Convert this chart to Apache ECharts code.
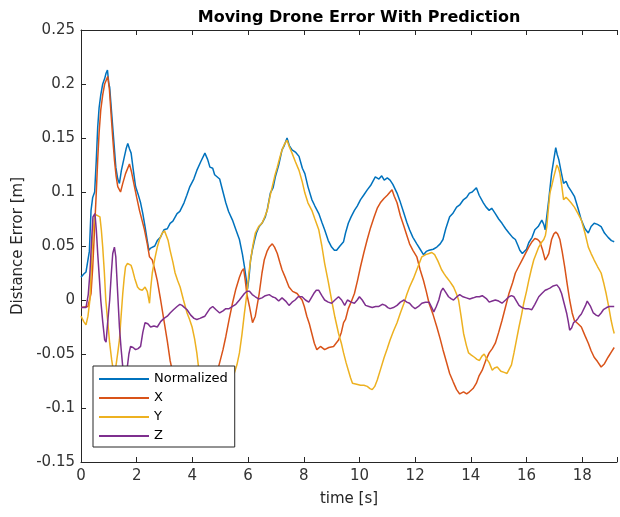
<!DOCTYPE html>
<html><head><meta charset="utf-8">
<script src="https://cdn.jsdelivr.net/npm/echarts@6/dist/echarts.min.js"></script>
<style>html,body{margin:0;padding:0;background:#fff}#c{width:620px;height:517px}</style>
</head><body><div id="c"></div>
<script>
const seriesNames = ['Normalized', 'X', 'Y', 'Z'];
const xTicks = [0, 2, 4, 6, 8, 10, 12, 14, 16, 18];
const yTicks = [-0.15, -0.1, -0.05, 0, 0.05, 0.1, 0.15, 0.2, 0.25];

const normalized = [[0,0.021],[0.1,0.024],[0.18,0.026],[0.25,0.025],[0.3,0.045],[0.36,0.083],[0.42,0.095],[0.49,0.1],[0.55,0.13],[0.6,0.16],[0.65,0.178],[0.71,0.19],[0.78,0.2],[0.85,0.205],[0.9,0.21],[0.95,0.213],[1.0,0.2],[1.03,0.197],[1.08,0.18],[1.14,0.16],[1.2,0.14],[1.25,0.123],[1.32,0.112],[1.38,0.108],[1.45,0.12],[1.56,0.133],[1.62,0.14],[1.68,0.145],[1.74,0.14],[1.8,0.136],[1.88,0.12],[1.96,0.105],[2.05,0.098],[2.14,0.09],[2.22,0.08],[2.3,0.068],[2.38,0.055],[2.44,0.046],[2.5,0.048],[2.56,0.049],[2.65,0.05],[2.74,0.055],[2.85,0.058],[2.98,0.065],[3.1,0.066],[3.2,0.071],[3.3,0.073],[3.45,0.08],[3.55,0.082],[3.7,0.09],[3.8,0.097],[3.91,0.105],[4.05,0.112],[4.16,0.12],[4.3,0.128],[4.45,0.136],[4.55,0.13],[4.63,0.123],[4.73,0.122],[4.8,0.116],[4.98,0.112],[5.1,0.1],[5.2,0.09],[5.3,0.082],[5.44,0.074],[5.55,0.066],[5.69,0.056],[5.8,0.042],[5.87,0.031],[5.93,0.02],[5.98,0.01],[6.03,0.02],[6.09,0.037],[6.16,0.047],[6.23,0.055],[6.3,0.062],[6.4,0.068],[6.5,0.071],[6.62,0.077],[6.7,0.085],[6.8,0.099],[6.9,0.104],[6.98,0.114],[7.1,0.125],[7.22,0.139],[7.3,0.143],[7.4,0.15],[7.48,0.143],[7.58,0.139],[7.7,0.137],[7.83,0.133],[7.95,0.122],[8.04,0.117],[8.15,0.105],[8.29,0.093],[8.4,0.087],[8.54,0.08],[8.65,0.072],[8.75,0.065],[8.88,0.055],[9.0,0.049],[9.1,0.046],[9.18,0.046],[9.3,0.05],[9.43,0.054],[9.5,0.062],[9.6,0.071],[9.7,0.077],[9.82,0.083],[9.92,0.087],[10.04,0.093],[10.15,0.097],[10.28,0.102],[10.4,0.106],[10.57,0.114],[10.7,0.112],[10.8,0.115],[10.89,0.111],[11.0,0.113],[11.1,0.111],[11.2,0.107],[11.35,0.099],[11.45,0.092],[11.6,0.08],[11.7,0.072],[11.8,0.065],[11.92,0.058],[12.06,0.052],[12.18,0.047],[12.3,0.042],[12.4,0.045],[12.5,0.046],[12.65,0.047],[12.78,0.049],[12.9,0.052],[13.0,0.056],[13.1,0.066],[13.24,0.077],[13.35,0.08],[13.49,0.086],[13.6,0.088],[13.74,0.093],[13.85,0.095],[13.95,0.099],[14.05,0.1],[14.2,0.104],[14.3,0.097],[14.45,0.09],[14.55,0.086],[14.66,0.083],[14.75,0.085],[14.88,0.08],[15.0,0.075],[15.12,0.071],[15.25,0.066],[15.37,0.062],[15.5,0.058],[15.6,0.056],[15.7,0.05],[15.76,0.046],[15.85,0.043],[15.9,0.042],[16.0,0.047],[16.08,0.053],[16.2,0.058],[16.3,0.065],[16.42,0.068],[16.55,0.074],[16.62,0.07],[16.67,0.065],[16.74,0.08],[16.8,0.093],[16.9,0.117],[16.98,0.13],[17.05,0.141],[17.1,0.135],[17.16,0.13],[17.25,0.118],[17.33,0.108],[17.42,0.11],[17.5,0.105],[17.6,0.101],[17.72,0.096],[17.85,0.085],[17.97,0.074],[18.1,0.066],[18.22,0.062],[18.32,0.068],[18.43,0.071],[18.55,0.07],[18.68,0.068],[18.8,0.062],[18.93,0.058],[19.05,0.055],[19.15,0.054]];

const errX = [[0,-0.007],[0.25,-0.006],[0.36,0.006],[0.42,0.03],[0.48,0.062],[0.55,0.1],[0.6,0.13],[0.65,0.155],[0.71,0.176],[0.78,0.19],[0.85,0.2],[0.96,0.207],[1.02,0.195],[1.07,0.176],[1.14,0.15],[1.2,0.13],[1.26,0.115],[1.32,0.105],[1.42,0.1],[1.5,0.108],[1.6,0.117],[1.74,0.126],[1.82,0.118],[1.92,0.105],[2.0,0.095],[2.1,0.083],[2.2,0.073],[2.28,0.065],[2.38,0.052],[2.46,0.04],[2.56,0.037],[2.65,0.028],[2.74,0.018],[2.86,0.0],[2.98,-0.019],[3.1,-0.038],[3.2,-0.056],[3.35,-0.074],[3.6,-0.088],[4.0,-0.096],[4.4,-0.095],[4.75,-0.08],[4.98,-0.058],[5.1,-0.046],[5.2,-0.034],[5.32,-0.018],[5.44,-0.003],[5.56,0.01],[5.69,0.021],[5.78,0.027],[5.84,0.029],[5.9,0.018],[5.96,0.005],[6.05,-0.006],[6.16,-0.021],[6.26,-0.015],[6.4,0.006],[6.5,0.025],[6.58,0.037],[6.68,0.045],[6.76,0.049],[6.87,0.052],[6.95,0.049],[7.05,0.043],[7.14,0.035],[7.22,0.028],[7.35,0.02],[7.47,0.012],[7.6,0.008],[7.76,0.006],[7.94,0.0],[8.02,-0.006],[8.11,-0.015],[8.2,-0.022],[8.29,-0.031],[8.38,-0.04],[8.47,-0.046],[8.6,-0.043],[8.75,-0.046],[8.9,-0.044],[9.07,-0.043],[9.25,-0.037],[9.35,-0.03],[9.43,-0.021],[9.5,-0.018],[9.6,-0.008],[9.7,-0.002],[9.82,0.006],[9.93,0.018],[10.04,0.031],[10.16,0.044],[10.28,0.056],[10.4,0.067],[10.53,0.077],[10.64,0.085],[10.75,0.09],[10.88,0.094],[11.0,0.097],[11.1,0.1],[11.17,0.102],[11.25,0.096],[11.35,0.09],[11.47,0.078],[11.6,0.068],[11.7,0.06],[11.8,0.052],[11.92,0.046],[12.06,0.04],[12.18,0.028],[12.3,0.018],[12.4,0.008],[12.5,-0.003],[12.65,-0.014],[12.78,-0.025],[12.9,-0.036],[13.0,-0.046],[13.12,-0.057],[13.24,-0.068],[13.37,-0.076],[13.49,-0.083],[13.6,-0.087],[13.74,-0.085],[13.85,-0.087],[13.95,-0.085],[14.08,-0.082],[14.2,-0.077],[14.3,-0.07],[14.41,-0.065],[14.55,-0.055],[14.66,-0.049],[14.77,-0.045],[14.88,-0.04],[15.0,-0.03],[15.12,-0.019],[15.25,-0.006],[15.37,0.006],[15.5,0.016],[15.6,0.025],[15.72,0.031],[15.84,0.037],[15.96,0.043],[16.08,0.049],[16.2,0.054],[16.3,0.057],[16.4,0.056],[16.48,0.054],[16.58,0.046],[16.67,0.037],[16.74,0.04],[16.8,0.043],[16.9,0.056],[16.98,0.061],[17.05,0.063],[17.12,0.061],[17.2,0.056],[17.28,0.045],[17.37,0.031],[17.46,0.015],[17.55,0.0],[17.64,-0.012],[17.72,-0.019],[17.85,-0.022],[17.97,-0.025],[18.1,-0.033],[18.22,-0.04],[18.32,-0.047],[18.43,-0.053],[18.55,-0.057],[18.68,-0.062],[18.8,-0.059],[18.93,-0.053],[19.05,-0.048],[19.15,-0.044]];

const errY = [[0,-0.015],[0.1,-0.02],[0.18,-0.023],[0.25,-0.015],[0.32,0.0],[0.38,0.035],[0.43,0.062],[0.48,0.075],[0.53,0.079],[0.6,0.08],[0.68,0.077],[0.73,0.065],[0.78,0.049],[0.84,0.025],[0.89,0.0],[0.96,-0.02],[1.03,-0.04],[1.1,-0.055],[1.14,-0.062],[1.2,-0.068],[1.26,-0.06],[1.32,-0.049],[1.38,-0.037],[1.44,-0.015],[1.5,0.006],[1.55,0.02],[1.6,0.031],[1.67,0.034],[1.74,0.035],[1.8,0.032],[1.85,0.028],[1.93,0.02],[2.03,0.012],[2.1,0.01],[2.2,0.009],[2.3,0.012],[2.38,0.008],[2.46,-0.003],[2.5,0.01],[2.56,0.025],[2.65,0.038],[2.74,0.049],[2.82,0.056],[2.92,0.062],[3.0,0.064],[3.06,0.063],[3.13,0.055],[3.2,0.046],[3.3,0.035],[3.38,0.025],[3.47,0.018],[3.56,0.012],[3.68,0.0],[3.81,-0.012],[3.9,-0.018],[3.99,-0.025],[4.08,-0.036],[4.16,-0.049],[4.22,-0.062],[4.27,-0.074],[4.4,-0.082],[4.7,-0.085],[5.0,-0.08],[5.3,-0.072],[5.5,-0.068],[5.6,-0.06],[5.69,-0.049],[5.78,-0.032],[5.87,-0.012],[5.93,0.0],[5.98,0.012],[6.03,0.025],[6.09,0.037],[6.17,0.05],[6.26,0.062],[6.38,0.068],[6.5,0.071],[6.6,0.077],[6.69,0.083],[6.78,0.095],[6.87,0.105],[6.96,0.115],[7.05,0.123],[7.14,0.132],[7.22,0.139],[7.3,0.144],[7.4,0.148],[7.48,0.142],[7.58,0.136],[7.7,0.128],[7.83,0.12],[7.94,0.11],[8.04,0.099],[8.15,0.09],[8.29,0.083],[8.4,0.075],[8.54,0.065],[8.65,0.05],[8.75,0.034],[8.88,0.017],[9.0,0.0],[9.12,-0.016],[9.25,-0.031],[9.35,-0.04],[9.43,-0.049],[9.52,-0.058],[9.6,-0.065],[9.68,-0.072],[9.75,-0.077],[9.9,-0.078],[10.04,-0.079],[10.16,-0.079],[10.28,-0.08],[10.38,-0.082],[10.46,-0.083],[10.55,-0.08],[10.64,-0.074],[10.76,-0.064],[10.89,-0.053],[11.0,-0.045],[11.1,-0.037],[11.22,-0.029],[11.35,-0.021],[11.47,-0.012],[11.6,-0.003],[11.7,0.005],[11.8,0.012],[11.94,0.02],[12.06,0.028],[12.15,0.034],[12.24,0.04],[12.38,0.042],[12.5,0.043],[12.6,0.044],[12.7,0.042],[12.82,0.036],[12.95,0.028],[13.05,0.024],[13.13,0.021],[13.25,0.017],[13.38,0.012],[13.48,0.006],[13.56,0.0],[13.65,-0.015],[13.74,-0.031],[13.84,-0.042],[13.92,-0.049],[14.02,-0.051],[14.13,-0.053],[14.22,-0.055],[14.31,-0.056],[14.4,-0.052],[14.48,-0.05],[14.58,-0.055],[14.66,-0.058],[14.77,-0.065],[14.85,-0.063],[14.95,-0.062],[15.08,-0.066],[15.2,-0.067],[15.3,-0.068],[15.37,-0.068],[15.46,-0.06],[15.55,-0.049],[15.64,-0.037],[15.73,-0.025],[15.82,-0.014],[15.9,-0.003],[16.0,0.008],[16.08,0.018],[16.17,0.028],[16.26,0.037],[16.35,0.043],[16.44,0.049],[16.53,0.053],[16.62,0.056],[16.68,0.06],[16.73,0.068],[16.78,0.083],[16.84,0.099],[16.9,0.105],[16.98,0.114],[17.04,0.12],[17.09,0.125],[17.15,0.122],[17.2,0.117],[17.27,0.105],[17.33,0.093],[17.42,0.095],[17.5,0.093],[17.6,0.09],[17.72,0.086],[17.85,0.08],[17.97,0.074],[18.1,0.062],[18.22,0.049],[18.32,0.043],[18.43,0.037],[18.55,0.031],[18.68,0.025],[18.78,0.015],[18.86,0.006],[18.95,-0.006],[19.04,-0.019],[19.1,-0.026],[19.15,-0.031]];

const errZ = [[0,-0.007],[0.18,-0.007],[0.26,0.005],[0.32,0.025],[0.38,0.055],[0.43,0.077],[0.5,0.08],[0.55,0.065],[0.6,0.043],[0.66,0.02],[0.71,0.0],[0.78,-0.02],[0.85,-0.037],[0.9,-0.039],[0.96,-0.02],[1.03,0.0],[1.09,0.025],[1.14,0.043],[1.2,0.049],[1.25,0.04],[1.28,0.025],[1.33,0.0],[1.38,-0.025],[1.44,-0.045],[1.5,-0.062],[1.58,-0.07],[1.65,-0.065],[1.72,-0.05],[1.78,-0.043],[1.87,-0.044],[1.96,-0.046],[2.05,-0.045],[2.14,-0.043],[2.22,-0.03],[2.3,-0.021],[2.4,-0.022],[2.5,-0.025],[2.62,-0.024],[2.74,-0.025],[2.86,-0.02],[2.98,-0.017],[3.1,-0.015],[3.2,-0.012],[3.32,-0.009],[3.45,-0.006],[3.55,-0.004],[3.63,-0.005],[3.72,-0.007],[3.81,-0.009],[3.94,-0.014],[4.06,-0.017],[4.16,-0.018],[4.27,-0.017],[4.36,-0.016],[4.45,-0.015],[4.55,-0.011],[4.63,-0.008],[4.73,-0.006],[4.85,-0.009],[4.98,-0.012],[5.1,-0.01],[5.2,-0.008],[5.32,-0.008],[5.44,-0.006],[5.56,-0.004],[5.69,0.0],[5.78,0.003],[5.87,0.006],[5.96,0.008],[6.05,0.008],[6.15,0.005],[6.26,0.003],[6.38,0.001],[6.5,0.002],[6.62,0.004],[6.76,0.005],[6.87,0.003],[6.98,0.002],[7.1,-0.001],[7.22,0.002],[7.35,-0.001],[7.47,-0.005],[7.58,-0.002],[7.69,0.0],[7.8,0.003],[7.94,0.003],[8.06,0.0],[8.18,-0.002],[8.27,0.002],[8.36,0.006],[8.45,0.009],[8.54,0.009],[8.65,0.004],[8.75,0.0],[8.88,-0.002],[9.0,-0.003],[9.12,0.0],[9.25,0.003],[9.36,0.0],[9.47,-0.005],[9.57,0.0],[9.7,-0.002],[9.82,-0.003],[9.92,0.0],[10.0,0.003],[10.1,0.0],[10.22,-0.005],[10.34,-0.006],[10.46,-0.007],[10.58,-0.006],[10.7,-0.006],[10.82,-0.004],[10.93,-0.005],[11.02,-0.007],[11.1,-0.008],[11.22,-0.007],[11.35,-0.005],[11.47,-0.002],[11.6,0.0],[11.7,-0.002],[11.8,-0.003],[11.9,-0.006],[12.0,-0.008],[12.12,-0.006],[12.24,-0.003],[12.37,-0.002],[12.5,-0.002],[12.58,-0.006],[12.67,-0.011],[12.76,-0.006],[12.85,0.0],[12.93,0.008],[13.0,0.011],[13.1,0.007],[13.2,0.003],[13.3,0.001],[13.38,0.0],[13.5,0.003],[13.6,0.005],[13.72,0.003],[13.84,0.002],[13.96,0.001],[14.09,0.002],[14.2,0.003],[14.31,0.003],[14.41,0.004],[14.48,0.005],[14.57,0.001],[14.66,-0.002],[14.77,-0.001],[14.88,0.0],[15.0,-0.001],[15.12,-0.003],[15.25,0.0],[15.37,0.003],[15.46,0.004],[15.55,0.003],[15.64,-0.001],[15.73,-0.005],[15.84,-0.007],[15.94,-0.008],[16.06,-0.008],[16.19,-0.009],[16.3,-0.004],[16.44,0.003],[16.55,0.006],[16.67,0.009],[16.76,0.01],[16.84,0.011],[16.96,0.013],[17.09,0.014],[17.18,0.011],[17.26,0.006],[17.35,-0.003],[17.44,-0.012],[17.5,-0.02],[17.55,-0.028],[17.62,-0.026],[17.69,-0.021],[17.75,-0.02],[17.79,-0.019],[17.85,-0.017],[17.9,-0.015],[17.97,-0.013],[18.04,-0.012],[18.12,-0.005],[18.18,-0.001],[18.22,0.0],[18.3,-0.006],[18.4,-0.012],[18.5,-0.014],[18.58,-0.015],[18.68,-0.012],[18.76,-0.009],[18.88,-0.007],[18.97,-0.006],[19.15,-0.006]];

const colors = ['#0072BD', '#D95319', '#EDB120', '#7E2F8E'];
const font = 'DejaVu Sans';
const axisColor = '#262626';

const chart = echarts.init(document.getElementById('c'), null, {renderer: 'canvas'});
const dataSets = [normalized, errX, errY, errZ];
const xMin = xTicks[0], xMax = 19.25;
const yMin = yTicks[0], yMax = yTicks[yTicks.length - 1];

chart.setOption({
  animation: false,
  backgroundColor: '#fff',
  color: colors,
  title: {
    text: 'Moving Drone Error With Prediction',
    left: 354, top: 5, textAlign: 'center',
    textStyle: {fontFamily: font, fontSize: 16, fontWeight: 'bold', color: '#000'}
  },
  grid: {left: 81, right: -2, top: 30, bottom: 55, containLabel: false},
  legend: {
    orient: 'vertical', left: 93, top: 366,
    data: seriesNames,
    icon: 'rect', itemWidth: 50, itemHeight: 2, itemGap: 5,
    padding: [6, 7, 4, 6],
    backgroundColor: '#fff', borderColor: axisColor, borderWidth: 1,
    textStyle: {fontFamily: font, fontSize: 13, color: '#000', lineHeight: 14},
    z: 10
  },
  xAxis: [{
    type: 'value', min: xMin, max: xMax, interval: 2, position: 'bottom',
    name: 'time [s]', nameLocation: 'middle', nameGap: 30,
    nameTextStyle: {fontFamily: font, fontSize: 15, color: axisColor},
    axisLine: {show: true, onZero: false, lineStyle: {color: axisColor, width: 1}},
    axisTick: {show: true, inside: true, length: 5, lineStyle: {color: axisColor}},
    axisLabel: {fontFamily: font, fontSize: 15, color: '#333', margin: 7,
      formatter: v => (xTicks.indexOf(v) >= 0 ? String(v) : '')},
    splitLine: {show: false}
  }, {
    type: 'value', min: xMin, max: xMax, interval: 2, position: 'top',
    axisLine: {show: true, onZero: false, lineStyle: {color: axisColor, width: 1}},
    axisTick: {show: true, inside: true, length: 5, lineStyle: {color: axisColor}},
    axisLabel: {show: false},
    splitLine: {show: false}
  }],
  yAxis: {
    type: 'value', min: yMin, max: yMax, interval: 0.05,
    name: 'Distance Error [m]', nameLocation: 'middle', nameGap: 52,
    nameTextStyle: {fontFamily: font, fontSize: 15, color: axisColor},
    axisLine: {show: true, onZero: false, lineStyle: {color: axisColor, width: 1}},
    axisTick: {show: true, inside: true, length: 5, lineStyle: {color: axisColor}},
    axisLabel: {fontFamily: font, fontSize: 15, color: '#333', margin: 6},
    splitLine: {show: false}
  },
  series: seriesNames.map((n, i) => ({
    name: n, type: 'line', xAxisIndex: 0, data: dataSets[i],
    showSymbol: false, symbol: 'none', smooth: false,
    lineStyle: {width: 1.5, color: colors[i]},
    itemStyle: {color: colors[i]},
    z: 2 + i * 0.01
  }))
});
</script></body></html>
